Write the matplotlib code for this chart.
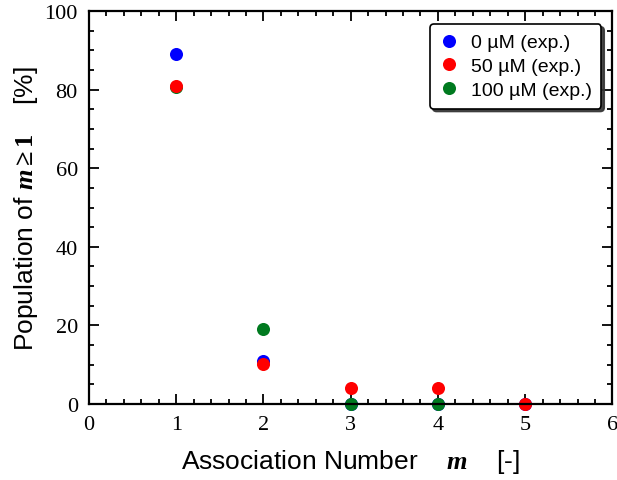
import matplotlib
matplotlib.use('Agg')
import matplotlib.pyplot as plt
from matplotlib.ticker import MultipleLocator

# data
m_0uM = [1, 2, 3, 4, 5]
pop_0uM = [89, 11, 0, 0, 0]
m_50uM = [1, 2, 3, 4, 5]
pop_50uM = [81, 10.3, 4.1, 4.1, 0]
m_100uM = [1, 2, 3, 4]
pop_100uM = [80.6, 19, 0, 0]

plt.rcParams['mathtext.fontset'] = 'custom'
plt.rcParams['mathtext.rm'] = 'Liberation Serif'
plt.rcParams['mathtext.bf'] = 'Liberation Serif:bold'
plt.rcParams['mathtext.it'] = 'Liberation Serif:italic'
plt.rcParams['mathtext.bfit'] = 'Liberation Serif:italic:bold'

fig = plt.figure(figsize=(6.17, 4.81), dpi=100)
ax = fig.add_axes([0.1442, 0.158, 0.8484, 0.817])

ms = 9.4
h0, = ax.plot(m_0uM, pop_0uM, 'o', color='#0000ff', ms=ms, mec='none', clip_on=False, label='0 µM (exp.)')
h100, = ax.plot(m_100uM, pop_100uM, 'o', color='#007a1f', ms=ms, mec='none', clip_on=False, label='100 µM (exp.)')
h50, = ax.plot(m_50uM, pop_50uM, 'o', color='#ff0000', ms=ms, mec='none', clip_on=False, label='50 µM (exp.)')

ax.set_xlim(0, 6)
ax.set_ylim(0, 100)
ax.xaxis.set_major_locator(MultipleLocator(1))
ax.xaxis.set_minor_locator(MultipleLocator(0.2))
ax.yaxis.set_major_locator(MultipleLocator(20))
ax.yaxis.set_minor_locator(MultipleLocator(5))
ax.tick_params(which='both', direction='in', top=True, right=True, width=1.3)
ax.tick_params(which='major', length=7, labelsize=16, pad=8)
ax.tick_params(which='minor', length=3.5)
for lab in ax.get_xticklabels() + ax.get_yticklabels():
    lab.set_fontfamily('Liberation Serif')
for sp in ax.spines.values():
    sp.set_linewidth(1.6)

ax.set_xlabel(r'Association Number    $\mathbfit{m}$    [-]', fontsize=19,
              fontfamily='Liberation Sans', labelpad=9)
ax.set_ylabel(r'Population of $\mathbfit{m}\mathbf{\geq 1}$    [%]', fontsize=19,
              fontfamily='Liberation Sans', labelpad=3)

leg = ax.legend(handles=[h0, h50, h100], loc='upper right', bbox_to_anchor=(0.979, 0.967),
                borderaxespad=0, fancybox=True, shadow={'color': '0.2', 'alpha': 0.9},
                frameon=True, framealpha=1, edgecolor='black',
                prop={'family': 'Liberation Sans', 'size': 14},
                handletextpad=0.6, labelspacing=0.32, borderpad=0.5, handlelength=1.0)
leg.get_frame().set_linewidth(1.2)

fig.savefig('out.png', dpi=100)
